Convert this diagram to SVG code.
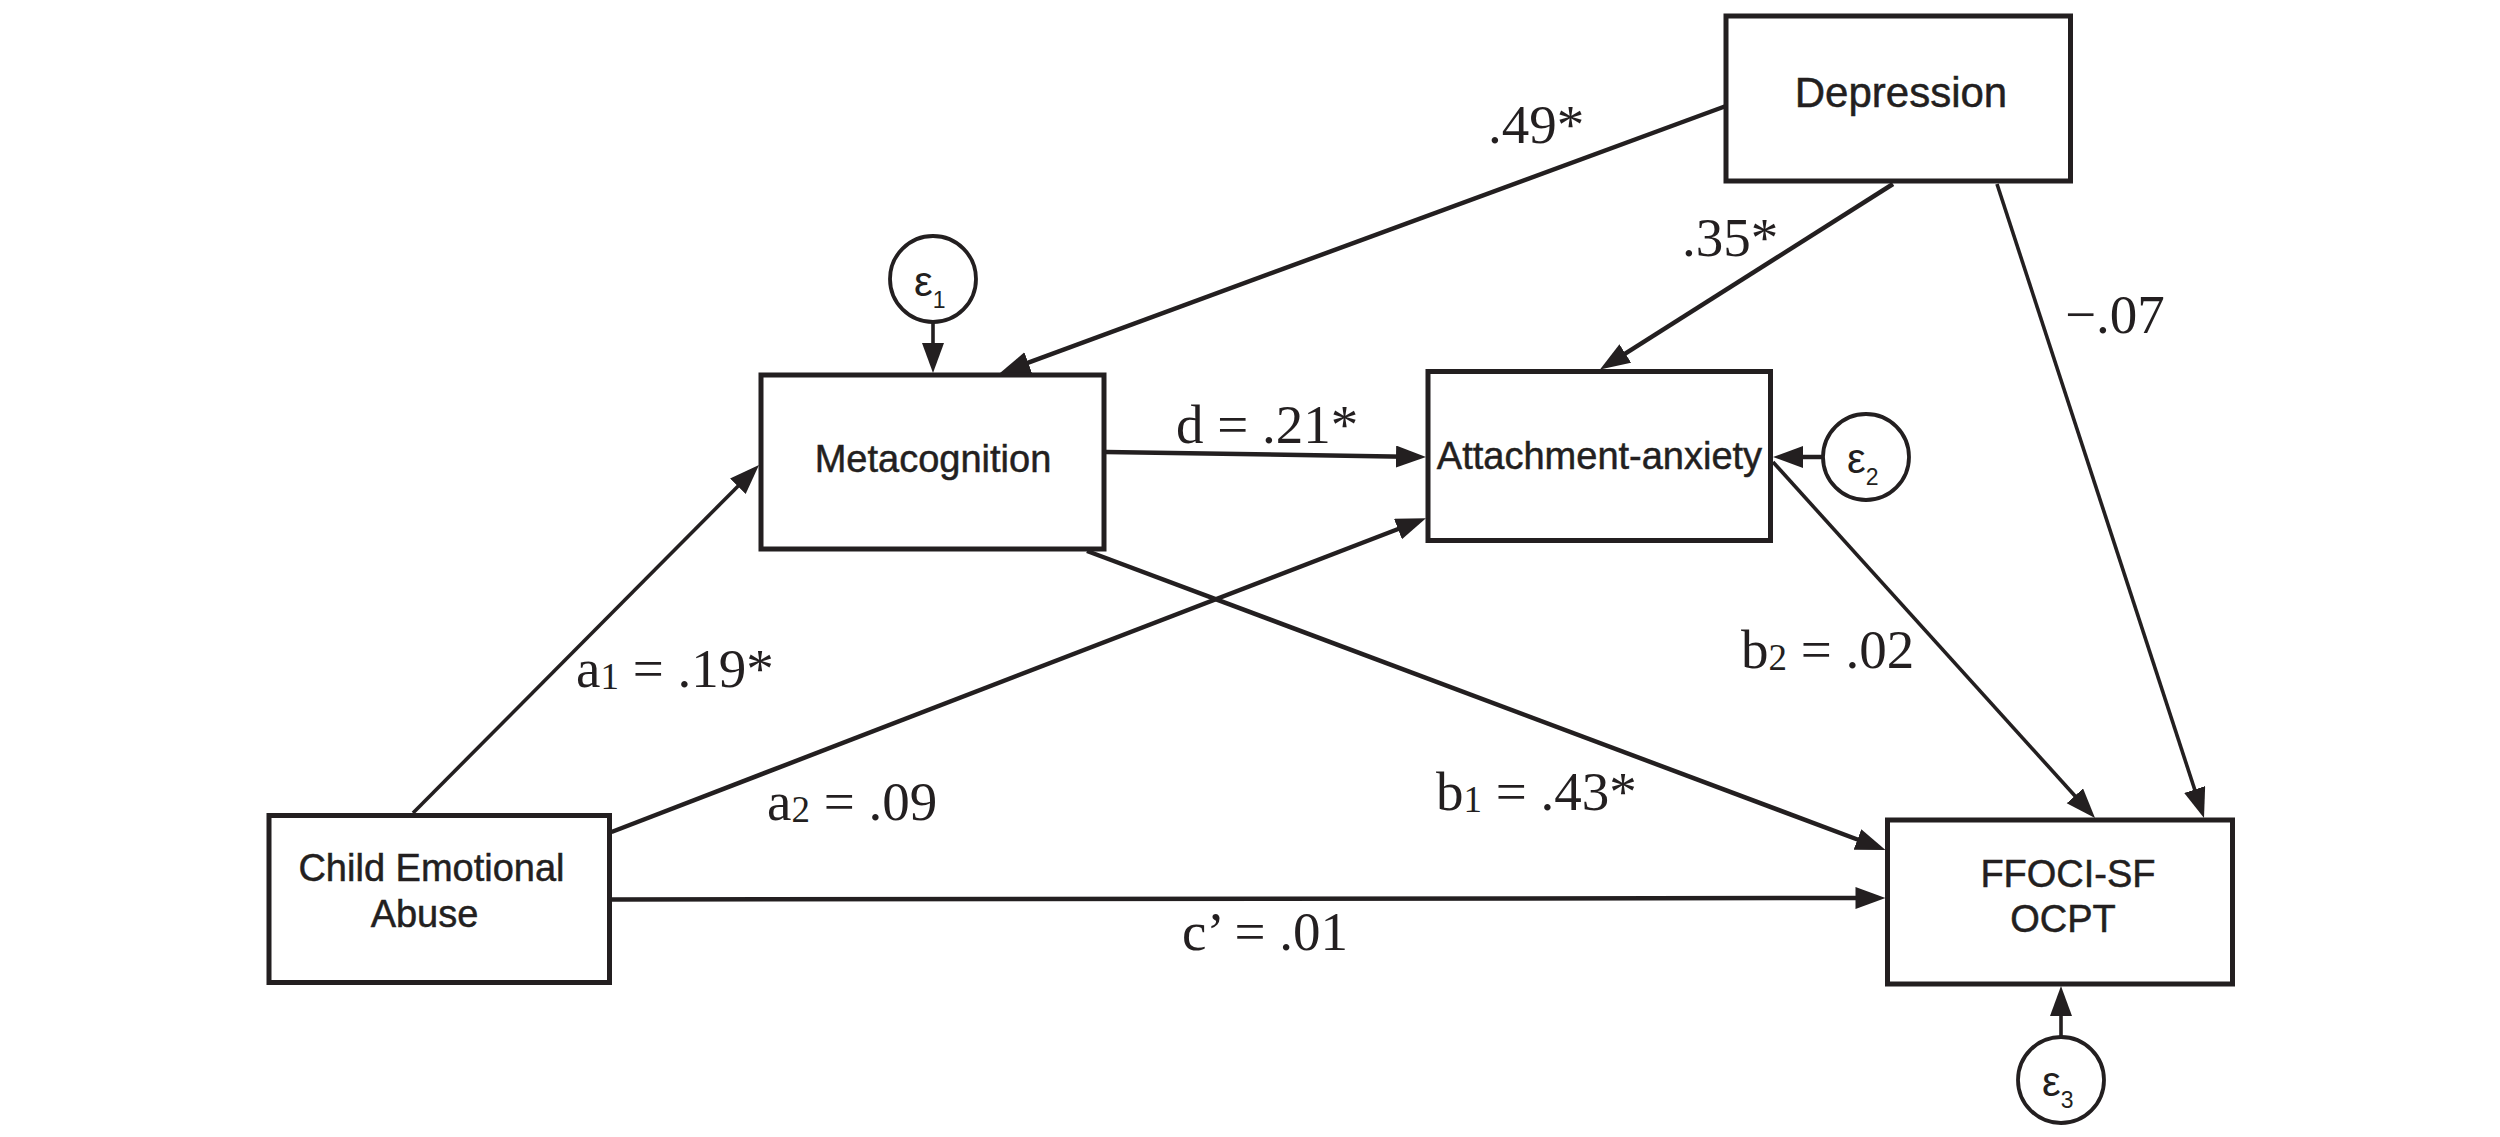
<svg xmlns="http://www.w3.org/2000/svg" width="2500" height="1137" viewBox="0 0 2500 1137">
<style>
.box{fill:#fff;stroke:#231f20;stroke-width:5}
.err{fill:#fff;stroke:#231f20;stroke-width:3.8}
.nt{font-family:"Liberation Sans",Arial,sans-serif;font-size:38px;fill:#231f20;text-anchor:middle;stroke:#231f20;stroke-width:0.5}
.et{font-family:"Liberation Sans",Arial,sans-serif;font-size:42px;fill:#231f20}
.lb{font-family:"Liberation Serif","Times New Roman",serif;font-size:55px;fill:#231f20}
.c{fill:none;stroke:#231f20;stroke-width:4.5}
.t{fill:none;stroke:#231f20;stroke-width:3.6}
</style>
<defs>
<marker id="ah" markerUnits="userSpaceOnUse" markerWidth="32" markerHeight="24" refX="10" refY="11" orient="auto">
<path d="M0,0 L30,11 L0,22 Z" fill="#231f20"/>
</marker>
</defs>
<rect width="2500" height="1137" fill="#fff"/>
<g id="connectors">
<line class="t" x1="933" y1="323" x2="933" y2="353" marker-end="url(#ah)"/>
<line class="c" x1="1726" y1="106" x2="1018.8" y2="366.1" marker-end="url(#ah)"/>
<line class="c" x1="1893" y1="184" x2="1616.9" y2="358.8" marker-end="url(#ah)"/>
<line class="t" x1="1997" y1="184" x2="2197.8" y2="799" marker-end="url(#ah)"/>
<line class="c" x1="1106" y1="452" x2="1406" y2="456.7" marker-end="url(#ah)"/>
<line class="c" x1="1822" y1="457" x2="1793" y2="457" marker-end="url(#ah)"/>
<line class="t" x1="413" y1="813" x2="744.9" y2="479.2" marker-end="url(#ah)"/>
<line class="c" x1="611.5" y1="832" x2="1407.3" y2="525.5" marker-end="url(#ah)"/>
<line class="c" x1="611.5" y1="899.5" x2="1865.5" y2="898" marker-end="url(#ah)"/>
<line class="c" x1="1087" y1="551" x2="1866.8" y2="843" marker-end="url(#ah)"/>
<line class="t" x1="1773" y1="462" x2="2081.6" y2="803.2" marker-end="url(#ah)"/>
<line class="t" x1="2061" y1="1037" x2="2061" y2="1006" marker-end="url(#ah)"/>
<text class="lb" x="1488" y="142.5">.49*</text>
<text class="lb" x="1682" y="256">.35*</text>
<text class="lb" x="2065" y="333">−.07</text>
<text class="lb" x="1176" y="443">d = .21*</text>
<text class="lb" x="576" y="687">a<tspan font-size="37" dy="2">1</tspan><tspan dy="-2"> = .19*</tspan></text>
<text class="lb" x="767" y="820">a<tspan font-size="37" dy="2">2</tspan><tspan dy="-2"> = .09</tspan></text>
<text class="lb" x="1436" y="810">b<tspan font-size="37" dy="2">1</tspan><tspan dy="-2"> = .43*</tspan></text>
<text class="lb" x="1741" y="668">b<tspan font-size="37" dy="2">2</tspan><tspan dy="-2"> = .02</tspan></text>
<text class="lb" x="1182" y="950">c’ = .01</text>
</g>
<g id="depression">
<rect class="box" x="1726" y="16" width="344.5" height="165"/>
<text class="nt" x="1901" y="106.7" style="font-size:42px">Depression</text>
</g>
<g id="metacognition">
<rect class="box" x="761" y="375" width="343" height="174"/>
<text class="nt" x="933" y="472">Metacognition</text>
</g>
<g id="attachment">
<rect class="box" x="1428" y="371.5" width="342.5" height="169"/>
<text class="nt" x="1599.5" y="469">Attachment-anxiety</text>
</g>
<g id="child">
<rect class="box" x="269" y="815.5" width="340.5" height="167"/>
<text class="nt" x="431.5" y="881">Child Emotional</text>
<text class="nt" x="424.5" y="927">Abuse</text>
</g>
<g id="ffoci">
<rect class="box" x="1887.5" y="820" width="345" height="164"/>
<text class="nt" x="2068" y="887">FFOCI-SF</text>
<text class="nt" x="2063" y="932">OCPT</text>
</g>
<g id="e1">
<circle class="err" cx="933" cy="279" r="43"/>
<text class="et" x="914" y="296">ε<tspan font-size="23" dy="12">1</tspan></text>
</g>
<g id="e2">
<circle class="err" cx="1866" cy="457" r="43"/>
<text class="et" x="1847" y="473">ε<tspan font-size="23" dy="12">2</tspan></text>
</g>
<g id="e3">
<circle class="err" cx="2061" cy="1080" r="43"/>
<text class="et" x="2042" y="1096">ε<tspan font-size="23" dy="12">3</tspan></text>
</g>
</svg>
